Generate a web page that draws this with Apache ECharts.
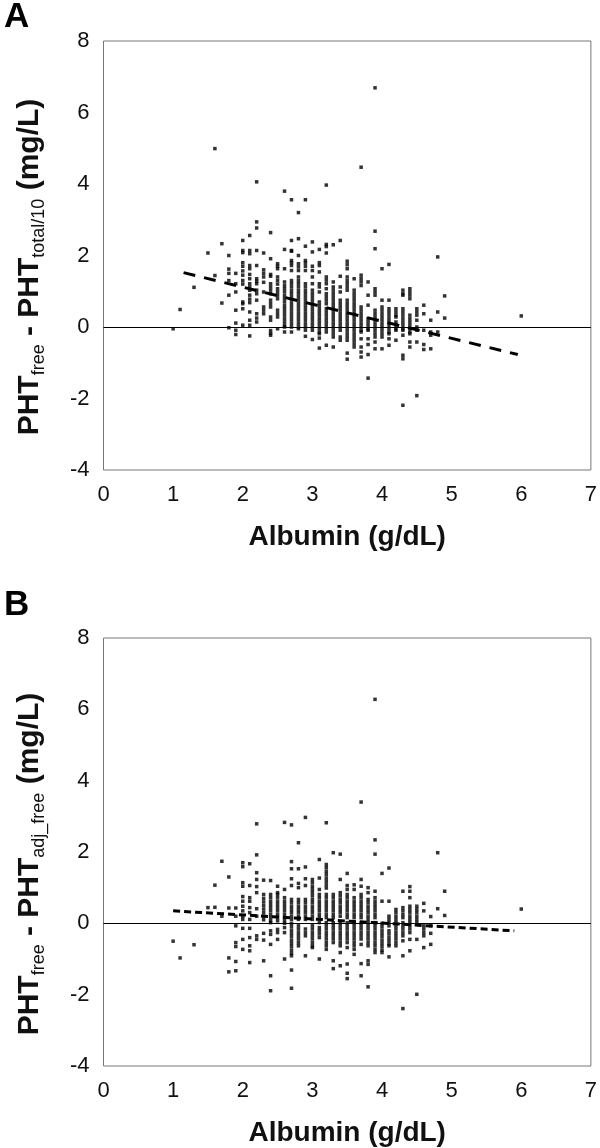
<!DOCTYPE html>
<html><head><meta charset="utf-8">
<script src="https://cdn.jsdelivr.net/npm/echarts@6/dist/echarts.min.js"></script>
<style>html,body{margin:0;padding:0;background:#fff}#c{width:600px;height:1148px}</style>
</head><body><div id="c"></div>
<script>
// Albumin levels (g/dL) where points occur
const albumin = [1.0,1.1,1.3,1.5,1.6,1.7,1.8,1.9,
  2.0,2.1,2.2,2.3,2.4,2.5,2.6,2.7,2.8,2.9,
  3.0,3.1,3.2,3.3,3.4,3.5,3.6,3.7,3.8,3.9,
  4.0,4.1,4.2,4.3,4.4,4.5,4.6,4.7,4.8,4.9,6.0];

// Panel A: PHTfree - PHTtotal/10 (mg/L), one list per albumin level
const diffA = [
  [-0.05],
  [0.49],
  [1.11],
  [2.07],
  [4.99,1.44],
  [2.33,0.67],
  [2.0,1.62,1.5,1.3,0.89,-0.02],
  [1.5,1.21,0.98,0.47,0.11,-0.09,-0.21],
  [2.42,2.14,2.08,1.8,1.7,1.57,1.45,1.3,1.2,0.7,0.65,0.51,0.05],
  [2.56,2.14,2.05,1.72,1.63,1.47,1.35,1.21,1.12,1.03,0.89,0.78,0.68,0.42,0.19,0.05,-0.25],
  [4.06,2.94,2.77,2.14,1.72,1.35,1.28,1.21,1.03,0.93,0.75,0.37,0.25,0.14],
  [2.07,1.6,1.5,1.4,1.25,0.98,0.56,0.47,0.37],
  [2.64,1.91,1.47,1.42,1.21,1.12,1.03,0.93,0.75,0.65,0.56,0.28,0.19,-0.1,-0.18,-0.23],
  [1.77,1.7,1.63,1.4,1.3,1.2,1.07,0.98,0.89,0.79,0.47,0.37,0.28,-0.05],
  [3.8,2.17,1.63,1.26,1.16,1.07,0.98,0.88,0.79,0.7,0.6,0.51,0.42,0.33,0.23,0.14,0.05,0.0,-0.14],
  [3.56,2.42,2.14,2.12,1.86,1.8,1.72,1.58,1.3,1.21,1.12,1.02,0.93,0.84,0.75,0.65,0.56,0.47,0.37,0.28,0.19,0.09,0.0,-0.14],
  [3.2,2.47,2.0,1.77,1.68,1.58,1.4,1.3,1.21,1.12,1.02,0.93,0.84,0.75,0.65,0.56,0.47,0.37,0.28,0.19,0.09,0.0,-0.05],
  [3.56,2.26,1.86,1.79,1.7,1.58,1.21,1.12,1.02,0.93,0.84,0.75,0.65,0.56,0.47,0.37,0.28,0.19,0.09,0.0,-0.09,-0.26],
  [2.38,2.1,1.7,1.58,1.4,1.21,1.03,0.93,0.84,0.75,0.65,0.56,0.47,0.37,0.28,0.19,0.09,0.0,-0.09,-0.35],
  [2.17,1.8,1.72,1.54,1.21,1.12,0.98,0.7,0.61,0.51,0.42,0.33,0.23,0.14,0.05,-0.05,-0.14,-0.19,-0.31,-0.59],
  [3.97,2.31,2.25,2.07,1.4,1.31,1.21,1.07,0.93,0.84,0.75,0.65,0.51,0.42,0.33,0.23,0.14,0.05,-0.05,-0.14,-0.51],
  [2.3,1.26,1.12,1.03,0.93,0.84,0.75,0.65,0.56,0.47,0.37,0.28,0.19,0.09,0.0,-0.09,-0.19,-0.28,-0.56],
  [2.42,1.42,1.12,0.98,0.75,0.65,0.56,0.47,0.37,0.28,0.19,0.09,0.0,-0.09,-0.28,-0.37],
  [1.84,1.74,1.63,1.4,1.3,1.21,1.12,1.03,0.75,0.65,0.56,0.47,0.37,0.28,0.19,0.09,0.0,-0.09,-0.19,-0.28,-0.37,-0.73,-0.9],
  [1.35,1.03,0.93,0.84,0.75,0.65,0.56,0.47,0.37,0.28,0.19,0.09,0.0,-0.09,-0.19,-0.28,-0.37,-0.47,-0.56],
  [4.47,1.45,1.35,1.26,1.16,0.56,0.47,0.37,0.28,0.19,0.09,0.0,-0.09,-0.14,-0.33,-0.56,-0.7,-0.84],
  [1.26,0.89,0.61,0.23,0.14,0.05,-0.05,-0.09,-0.33,-0.49,-0.77,-1.43],
  [6.69,2.68,2.19,1.07,0.98,0.89,0.47,0.37,0.28,0.19,0.09,0.0,-0.09,-0.19,-0.28,-0.42,-0.61],
  [1.63,0.75,0.56,0.47,0.37,0.28,0.19,0.09,0.0,-0.09,-0.19,-0.28,-0.61],
  [1.75,0.75,0.51,0.42,0.33,0.23,0.14,0.05,-0.05,-0.14,-0.19,-0.33,-0.51],
  [0.51,0.42,0.33,0.28,0.14,0.05,-0.05,-0.09,-0.37],
  [1.03,0.93,0.89,0.51,0.42,0.33,0.23,0.14,0.05,-0.05,-0.09,-0.23,-0.79,-0.89,-2.19],
  [1.07,0.98,0.89,0.79,0.33,0.23,0.14,0.05,-0.05,-0.14,-0.19,-0.42,-0.56],
  [0.51,0.42,0.33,0.19,0.0,-0.09,-0.42,-1.92],
  [0.61,0.37,-0.09,-0.49,-0.63],
  [0.19,-0.14,-0.23,-0.61],
  [1.96,0.42,-0.14],
  [0.87,0.25],
  [0.31]
];

// Panel B: PHTfree - PHTadj_free (mg/L), one list per albumin level
const diffB = [
  [-0.5],
  [-0.97],
  [-0.6],
  [0.44],
  [1.07,0.45],
  [1.74,0.2],
  [1.3,0.43,-0.97,-1.36],
  [0.43,0.2,-0.07,-0.54,-0.65,-1.07,-1.33],
  [1.7,1.59,1.14,1.04,0.75,0.62,0.48,0.35,0.2,0.11,-0.14,-0.45,-0.73],
  [1.67,1.06,0.72,0.62,0.44,0.3,0.11,-0.14,-0.4,-0.63,-0.77,-1.1],
  [2.79,1.92,1.42,1.23,1.03,0.86,0.41,0.2,-0.35,-0.45],
  [1.21,0.81,0.7,0.6,0.5,0.4,0.3,0.2,0.1,-0.28,-0.47,-1.05],
  [1.2,0.81,0.72,0.62,0.53,0.44,0.35,0.25,0.16,0.07,0.02,-0.21,-0.31,-0.59,-1.47,-1.89],
  [1.04,0.86,0.81,0.72,0.62,0.53,0.44,0.35,0.25,0.16,0.07,-0.17,-0.26,-0.45],
  [2.83,0.95,0.72,0.62,0.53,0.44,0.35,0.25,0.16,0.07,0.0,-0.12,-0.26,-1.0],
  [2.76,1.73,1.53,1.25,1.06,0.67,0.58,0.48,0.39,0.3,0.2,0.11,0.0,-0.09,-0.19,-0.28,-0.37,-0.47,-0.56,-0.65,-0.75,-0.84,-0.91,-1.31,-1.82],
  [2.26,1.53,1.12,1.0,0.67,0.58,0.48,0.39,0.3,0.2,0.11,-0.07,-0.16,-0.26,-0.35,-0.44,-0.54,-0.63],
  [2.97,1.58,1.25,1.06,0.67,0.58,0.48,0.39,0.3,0.2,0.11,-0.16,-0.26,-0.35,-0.91],
  [1.23,1.14,1.04,0.95,0.86,0.77,0.67,0.58,0.48,0.39,0.3,0.2,0.11,-0.07,-0.16,-0.26,-0.35,-0.44,-0.54,-0.63,-0.68],
  [1.79,1.27,0.95,0.81,0.72,0.62,0.53,0.44,0.35,0.25,0.16,0.02,-0.12,-0.21,-0.3,-0.4,-1.0],
  [2.82,1.65,1.56,1.46,1.37,1.27,1.18,1.08,0.99,0.81,0.72,0.62,0.53,0.44,0.35,0.25,0.16,0.02,-0.07,-0.16,-0.26,-0.35,-0.44,-0.54,-0.63,-0.73],
  [1.98,0.81,0.72,0.62,0.53,0.44,0.35,0.25,0.16,0.02,-0.07,-0.16,-0.26,-0.35,-0.44,-0.54,-1.05,-1.27],
  [1.94,1.23,0.86,0.77,0.67,0.58,0.48,0.39,0.3,0.2,0.02,-0.07,-0.16,-0.26,-0.35,-0.44,-0.54,-0.63,-0.82,-1.19],
  [1.4,1.06,0.95,0.81,0.72,0.62,0.53,0.44,0.35,0.25,0.16,0.02,-0.07,-0.16,-0.26,-0.35,-0.44,-0.54,-0.68,-1.14,-1.4,-1.55],
  [1.08,0.95,0.72,0.62,0.53,0.44,0.35,0.25,0.16,0.02,-0.07,-0.16,-0.26,-0.35,-0.44,-0.54,-0.63,-0.73,-0.87],
  [3.4,1.23,1.04,0.81,0.72,0.62,0.53,0.44,0.35,0.25,0.16,0.02,-0.07,-0.16,-0.26,-0.35,-0.44,-0.59,-1.13,-1.47],
  [1.0,0.86,0.67,0.58,0.48,0.39,0.3,0.2,0.11,0.02,-0.07,-0.16,-0.26,-0.35,-0.44,-0.54,-0.63,-1.05,-1.15,-1.78],
  [6.28,2.34,1.94,0.9,0.72,0.62,0.53,0.44,0.35,0.25,0.16,0.02,-0.07,-0.16,-0.26,-0.35,-0.44,-0.54,-0.63,-0.73,-0.82],
  [1.4,0.62,0.0,-0.09,-0.19,-0.28,-0.37,-0.47,-0.56,-0.65,-0.75,-0.82],
  [1.55,0.62,0.2,0.11,0.02,-0.07,-0.21,-0.3,-0.4,-0.49,-0.58,-0.63,-0.94],
  [0.39,0.3,0.2,0.11,0.02,-0.07,-0.16,-0.26,-0.35,-0.44,-0.54,-0.63],
  [0.9,0.44,0.35,0.25,0.16,0.02,-0.07,-0.16,-0.26,-0.35,-0.49,-0.91,-2.39],
  [1.03,0.9,0.72,0.48,0.39,0.3,0.2,0.11,0.02,-0.07,-0.16,-0.26,-0.45,-0.77],
  [0.48,0.39,0.3,0.2,0.11,0.02,-0.45,-1.99],
  [0.56,0.35,-0.07,-0.16,-0.26,-0.35,-0.68],
  [0.19,-0.07,-0.28,-0.59],
  [1.98,0.41],
  [0.9,0.22],
  [0.4]
];

// Regression lines (endpoints)
const trendA = [[1.15, 1.52], [5.95, -0.77]];
const trendB = [[1.0, 0.35], [5.9, -0.21]];

const xRange = [0, 7];
const yRange = [-4, 8];

function pairs(levels, lists) {
  const out = [];
  levels.forEach((a, i) => lists[i].forEach(v => out.push([a, v])));
  return out;
}
const ptsA = pairs(albumin, diffA);
const ptsB = pairs(albumin, diffB);

const FF = '"Liberation Sans", Arial, sans-serif';
const gridBase = {left: 103.5, width: 490, height: 429, show: true, borderColor: '#777', borderWidth: 1, backgroundColor: 'transparent'};

function xAx(i) {
  return {gridIndex: i, type: 'value', min: xRange[0], max: xRange[1], interval: 1,
    axisLine: {show: false}, axisTick: {show: false}, splitLine: {show: false},
    axisLabel: {fontSize: 22, color: '#111', margin: 14, fontFamily: FF},
    name: 'Albumin (g/dL)', nameLocation: 'middle', nameGap: 53,
    nameTextStyle: {fontSize: 28, fontWeight: 'bold', color: '#111', fontFamily: FF}};
}
function yAx(i) {
  return {gridIndex: i, type: 'value', min: yRange[0], max: yRange[1], interval: 2,
    axisLine: {show: false}, axisTick: {show: false}, splitLine: {show: false},
    axisLabel: {fontSize: 22, color: '#111', margin: 14, fontFamily: FF}};
}
function scatter(i, data) {
  return {type: 'scatter', xAxisIndex: i, yAxisIndex: i, data: data, symbol: 'rect', symbolSize: 3.5,
    itemStyle: {color: '#000'}, silent: true,
    markLine: {silent: true, symbol: 'none', label: {show: false},
      lineStyle: {color: '#000', width: 1, type: 'solid'}, data: [{yAxis: 0}]}};
}
function trend(i, data, dash) {
  return {type: 'line', xAxisIndex: i, yAxisIndex: i, data: data, symbol: 'none', silent: true,
    lineStyle: {color: '#000', width: 3, type: dash}};
}
function yTitle(y, sub2) {
  return {type: 'text', x: 30, y: y, rotation: Math.PI / 2,
    style: {text: '{m|PHT}{s|free}{m| - PHT}{s|' + sub2 + '}{m| (mg/L)}',
      align: 'center', verticalAlign: 'middle',
      rich: {
        m: {fontSize: 30, fontWeight: 'bold', fontFamily: FF, fill: '#111', lineHeight: 36, verticalAlign: 'middle'},
        s: {fontSize: 18, fontFamily: FF, fill: '#111', lineHeight: 18, verticalAlign: 'bottom'}
      }}};
}

const chart = echarts.init(document.getElementById('c'), null, {renderer: 'canvas'});
chart.setOption({
  animation: false,
  backgroundColor: '#fff',
  grid: [Object.assign({top: 41}, gridBase), Object.assign({top: 638}, gridBase)],
  xAxis: [xAx(0), xAx(1)],
  yAxis: [yAx(0), yAx(1)],
  series: [scatter(0, ptsA), trend(0, trendA, [12, 9]), scatter(1, ptsB), trend(1, trendB, [7, 4])],
  graphic: [
    {type: 'text', left: 4, top: 0, style: {text: 'A', fontSize: 35, fontWeight: 'bold', fontFamily: FF, fill: '#000'}},
    {type: 'text', left: 4, top: 588, style: {text: 'B', fontSize: 35, fontWeight: 'bold', fontFamily: FF, fill: '#000'}},
    yTitle(267, 'total/10'),
    yTitle(864, 'adj_free')
  ]
});
</script></body></html>
